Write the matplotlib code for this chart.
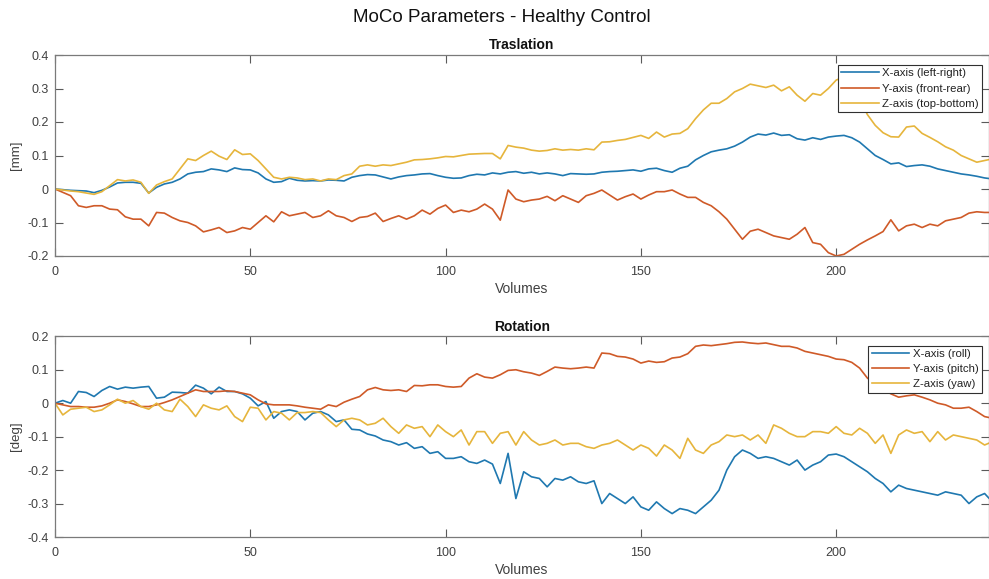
import matplotlib
matplotlib.use("Agg")
import matplotlib.pyplot as plt
from matplotlib.ticker import FuncFormatter, MultipleLocator

plt.rcParams['font.family'] = ['Liberation Sans', 'DejaVu Sans']

# sampled every 2 volumes
volumes = list(range(0, 241, 2))

trans_x = [0, -0.002, -0.004, -0.005, -0.006, -0.011, -0.004, 0.006, 0.018, 0.02,
           0.02, 0.017, -0.012, 0.005, 0.015, 0.02, 0.03, 0.045, 0.05, 0.052,
           0.06, 0.057, 0.052, 0.063, 0.058, 0.057, 0.048, 0.03, 0.02, 0.022,
           0.032, 0.026, 0.024, 0.025, 0.024, 0.027, 0.026, 0.024, 0.035, 0.04,
           0.043, 0.042, 0.036, 0.03, 0.036, 0.04, 0.042, 0.045, 0.046, 0.04,
           0.035, 0.032, 0.033, 0.04, 0.044, 0.042, 0.048, 0.045, 0.05, 0.052,
           0.047, 0.05, 0.045, 0.048, 0.045, 0.04, 0.046, 0.045, 0.044, 0.045,
           0.05, 0.052, 0.053, 0.055, 0.057, 0.053, 0.06, 0.062, 0.055, 0.05,
           0.062, 0.068, 0.087, 0.1, 0.111, 0.116, 0.12, 0.128, 0.14, 0.155,
           0.164, 0.161, 0.167, 0.16, 0.162, 0.15, 0.146, 0.153, 0.148, 0.155,
           0.158, 0.16, 0.153, 0.14, 0.12, 0.1, 0.088, 0.075, 0.078, 0.067,
           0.07, 0.072, 0.068, 0.06, 0.055, 0.05, 0.045, 0.042, 0.038, 0.033,
           0.03]

trans_y = [0, -0.01, -0.02, -0.05, -0.055, -0.05, -0.05, -0.06, -0.062, -0.083,
           -0.09, -0.09, -0.11, -0.07, -0.072, -0.085, -0.095, -0.1, -0.11, -0.128,
           -0.122, -0.115, -0.13, -0.125, -0.115, -0.12, -0.1, -0.08, -0.098, -0.068,
           -0.08, -0.075, -0.07, -0.085, -0.08, -0.065, -0.08, -0.085, -0.097, -0.085,
           -0.082, -0.072, -0.097, -0.088, -0.08, -0.09, -0.08, -0.063, -0.075, -0.058,
           -0.048, -0.07, -0.063, -0.068, -0.06, -0.045, -0.06, -0.093, -0.003, -0.03,
           -0.038, -0.033, -0.03, -0.022, -0.035, -0.02, -0.03, -0.04, -0.02, -0.013,
           -0.003, -0.018, -0.033, -0.023, -0.015, -0.03, -0.018, -0.008, -0.008, -0.003,
           -0.015, -0.025, -0.025, -0.04, -0.05, -0.068, -0.09, -0.12, -0.15, -0.126,
           -0.12, -0.13, -0.14, -0.145, -0.15, -0.135, -0.115, -0.16, -0.165, -0.19,
           -0.2, -0.195, -0.18, -0.165, -0.152, -0.14, -0.127, -0.092, -0.125, -0.11,
           -0.105, -0.115, -0.105, -0.11, -0.095, -0.09, -0.085, -0.072, -0.068, -0.07,
           -0.07]

trans_z = [0, -0.003, -0.006, -0.008, -0.012, -0.016, -0.008, 0.01, 0.028, 0.024,
           0.027, 0.02, -0.013, 0.012, 0.022, 0.03, 0.06, 0.09, 0.085, 0.1,
           0.113, 0.098, 0.088, 0.117, 0.103, 0.105, 0.085, 0.06, 0.035, 0.03,
           0.035, 0.033, 0.028, 0.03, 0.024, 0.03, 0.028, 0.04, 0.045, 0.068,
           0.072, 0.068, 0.072, 0.07, 0.075, 0.08, 0.087, 0.088, 0.09, 0.093,
           0.097, 0.096, 0.1, 0.104, 0.105, 0.106, 0.106, 0.09, 0.13, 0.125,
           0.122, 0.116, 0.113, 0.115, 0.12, 0.116, 0.118, 0.116, 0.12, 0.117,
           0.14, 0.141, 0.145, 0.148, 0.154, 0.16, 0.151, 0.17, 0.155, 0.164,
           0.166, 0.18, 0.21, 0.236, 0.256, 0.256, 0.27, 0.29, 0.30, 0.313,
           0.308, 0.303, 0.31, 0.293, 0.305, 0.28, 0.262, 0.285, 0.28, 0.3,
           0.325, 0.335, 0.31, 0.27, 0.222, 0.19, 0.168, 0.156, 0.155, 0.185,
           0.188, 0.166, 0.154, 0.141, 0.126, 0.116, 0.1, 0.09, 0.08, 0.085,
           0.09]

rot_x = [0, 0.008, 0.0, 0.035, 0.032, 0.02, 0.038, 0.05, 0.042, 0.048,
         0.045, 0.048, 0.05, 0.015, 0.018, 0.033, 0.032, 0.03, 0.054, 0.045,
         0.028, 0.048, 0.035, 0.035, 0.028, 0.015, -0.008, 0.005, -0.045, -0.025,
         -0.02, -0.025, -0.05, -0.03, -0.025, -0.035, -0.055, -0.05, -0.078, -0.08,
         -0.092, -0.098, -0.11, -0.115, -0.125, -0.118, -0.135, -0.13, -0.15, -0.145,
         -0.165, -0.165, -0.16, -0.175, -0.18, -0.17, -0.182, -0.24, -0.15, -0.285,
         -0.205, -0.22, -0.225, -0.25, -0.225, -0.23, -0.22, -0.235, -0.24, -0.232,
         -0.3, -0.27, -0.285, -0.3, -0.28, -0.31, -0.32, -0.295, -0.315, -0.33,
         -0.315, -0.32, -0.33, -0.31, -0.29, -0.26, -0.2, -0.16, -0.14, -0.15,
         -0.165, -0.16, -0.165, -0.175, -0.185, -0.17, -0.2, -0.185, -0.175, -0.155,
         -0.152, -0.16, -0.175, -0.19, -0.205, -0.225, -0.24, -0.265, -0.245, -0.255,
         -0.26, -0.265, -0.27, -0.275, -0.265, -0.27, -0.275, -0.3, -0.28, -0.27,
         -0.295]

rot_y = [0, -0.005, -0.01, -0.01, -0.012, -0.012, -0.008, 0.0, 0.01, 0.005,
         -0.002, -0.01, -0.01, -0.005, 0.002, 0.01, 0.02, 0.03, 0.04, 0.035,
         0.035, 0.035, 0.037, 0.035, 0.03, 0.025, 0.01, -0.002, -0.005, -0.005,
         -0.005, -0.008, -0.012, -0.015, -0.018, -0.005, -0.01, 0.003, 0.012, 0.02,
         0.04, 0.047, 0.04, 0.038, 0.04, 0.035, 0.053, 0.052, 0.055, 0.055,
         0.05, 0.048, 0.05, 0.075, 0.088, 0.078, 0.075, 0.085, 0.098, 0.1,
         0.094, 0.09, 0.083, 0.095, 0.108, 0.105, 0.103, 0.105, 0.108, 0.105,
         0.15, 0.148, 0.14, 0.138, 0.132, 0.12, 0.126, 0.122, 0.124, 0.135,
         0.138, 0.148, 0.17, 0.174, 0.172, 0.175, 0.178, 0.182, 0.183, 0.18,
         0.178, 0.18, 0.175, 0.17, 0.17, 0.165, 0.155, 0.15, 0.145, 0.14,
         0.132, 0.13, 0.122, 0.105, 0.075, 0.058, 0.042, 0.028, 0.018, 0.022,
         0.025, 0.018, 0.01, 0.0, -0.005, -0.015, -0.015, -0.012, -0.025, -0.04,
         -0.045]

rot_z = [0, -0.035, -0.018, -0.015, -0.012, -0.025, -0.02, -0.005, 0.012, 0.0,
         0.008, -0.01, -0.018, 0.0, -0.02, -0.025, 0.012, -0.01, -0.04, -0.005,
         -0.015, -0.02, -0.008, -0.04, -0.055, -0.012, -0.015, -0.05, -0.025, -0.03,
         -0.05, -0.028, -0.028, -0.025, -0.028, -0.05, -0.07, -0.05, -0.045, -0.05,
         -0.065, -0.06, -0.045, -0.07, -0.09, -0.065, -0.075, -0.07, -0.1, -0.065,
         -0.085, -0.1, -0.08, -0.125, -0.085, -0.085, -0.12, -0.09, -0.085, -0.125,
         -0.085, -0.11, -0.125, -0.12, -0.11, -0.125, -0.12, -0.12, -0.13, -0.135,
         -0.125, -0.12, -0.11, -0.125, -0.14, -0.125, -0.135, -0.158, -0.125, -0.14,
         -0.165, -0.105, -0.14, -0.15, -0.125, -0.115, -0.095, -0.1, -0.095, -0.11,
         -0.095, -0.12, -0.065, -0.075, -0.09, -0.1, -0.1, -0.085, -0.085, -0.09,
         -0.07, -0.09, -0.095, -0.075, -0.09, -0.12, -0.095, -0.15, -0.095, -0.08,
         -0.09, -0.085, -0.115, -0.085, -0.11, -0.095, -0.1, -0.105, -0.11, -0.125,
         -0.115]

trans_labels = ["X-axis (left-right)", "Y-axis (front-rear)", "Z-axis (top-bottom)"]
rot_labels = ["X-axis (roll)", "Y-axis (pitch)", "Z-axis (yaw)"]
colors = ["#1f78b0", "#cf5a28", "#e6b53c"]

W, H = 989, 579
fig = plt.figure(figsize=(W / 100, H / 100), dpi=100)

def px_axes(left, top, right, bottom):
    return fig.add_axes([left / W, 1 - bottom / H, (right - left) / W, (bottom - top) / H])

ax1 = px_axes(55, 55, 988.5, 256)
ax2 = px_axes(55, 336.3, 988.5, 537)

fmt = FuncFormatter(lambda v, p: ("%g" % round(v, 3)).replace("\u2212", "-"))

def style(ax, ylim, ylabel, title, series, labels, leg_y):
    for s, c, lab in zip(series, colors, labels):
        ax.plot(volumes, s, color=c, lw=1.2, label=lab)
    ax.set_xlim(0, 239)
    ax.set_ylim(*ylim)
    ax.xaxis.set_major_locator(MultipleLocator(50))
    ax.yaxis.set_major_locator(MultipleLocator(0.1))
    ax.yaxis.set_major_formatter(fmt)
    ax.tick_params(direction='in', length=6, width=0.8, color='#5a5a5a',
                   labelcolor='#404040', labelsize=9, top=True, right=True)
    ax.tick_params(axis='x', pad=7)
    ax.tick_params(axis='y', pad=4.5)
    for sp in ax.spines.values():
        sp.set_color('#7a7a7a')
        sp.set_linewidth(0.9)
    ax.set_xlabel("Volumes", fontsize=10, color='#404040')
    ax.xaxis.set_label_coords(0.5, -0.13)
    ax.set_ylabel(ylabel, fontsize=9.5, color='#404040')
    ax.yaxis.set_label_coords(-0.035, 0.5)
    ax.set_title(title, fontsize=10, fontweight='bold', pad=4, color='#111111')
    leg = ax.legend(loc='upper right', bbox_to_anchor=(0.993, leg_y), borderaxespad=0,
                    fontsize=8.2, handlelength=3.3, handletextpad=0.3, labelspacing=0.45,
                    borderpad=0.3, fancybox=False, framealpha=1, edgecolor='#303030')
    leg.get_frame().set_linewidth(0.8)
    for t in leg.get_texts():
        t.set_color('#222222')

style(ax1, (-0.2, 0.4), "[mm]", "Traslation", [trans_x, trans_y, trans_z], trans_labels, 0.950)
style(ax2, (-0.4, 0.2), "[deg]", "Rotation", [rot_x, rot_y, rot_z], rot_labels, 0.953)

fig.suptitle("MoCo Parameters - Healthy Control", fontsize=13.5, x=0.507, y=1 - 17 / H,
             va='center', color='#111111')

fig.savefig("out.png", dpi=100)
